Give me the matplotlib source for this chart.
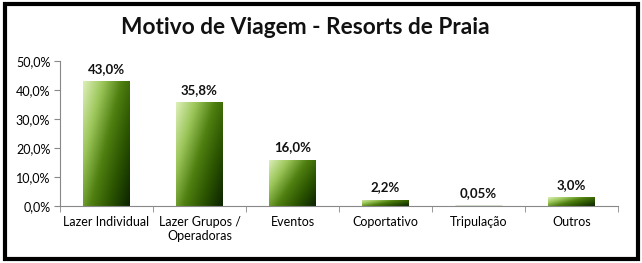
import matplotlib.pyplot as plt
import numpy as np
from matplotlib.colors import LinearSegmentedColormap
from matplotlib.patches import Rectangle

categories = ["Lazer Individual", "Lazer Grupos /\nOperadoras", "Eventos",
              "Coportativo", "Tripulação", "Outros"]
values = [43.0, 35.8, 16.0, 2.2, 0.05, 3.0]
value_labels = ["43,0%", "35,8%", "16,0%", "2,2%", "0,05%", "3,0%"]
yticks = [0, 10, 20, 30, 40, 50]
ytick_labels = ["0,0%", "10,0%", "20,0%", "30,0%", "40,0%", "50,0%"]

plt.rcParams['font.family'] = ['Lato', 'DejaVu Sans']

fig = plt.figure(figsize=(6.42, 2.63), dpi=100)
ax = fig.add_axes([0.0935, 0.2167, 0.869, 0.551])

cmap = LinearSegmentedColormap.from_list(
    "grn", ["#dcefb8", "#9cc65a", "#4f7f10", "#2a5200", "#0c2400"])

x = np.arange(len(categories))
bars = ax.bar(x, values, width=0.5, color="none", edgecolor="none")
gx, gy = np.meshgrid(np.linspace(0, 1, 60), np.linspace(0, 1, 60))
for b in bars:
    x0, y0 = b.get_x(), b.get_y()
    w, h = b.get_width(), b.get_height()
    # diagonal gradient: light top-left, dark bottom-right
    grad = 0.6 * gx + 0.4 * gy
    im = ax.imshow(grad, cmap=cmap, extent=[x0, x0 + w, y0, y0 + max(h, 0.12)],
                   origin="upper", aspect="auto", vmin=0, vmax=1, zorder=2)
    im.set_clip_path(b)
    if h < 0.2:
        ax.add_patch(Rectangle((x0, 0), w, 0.15, color="#3a6a08", zorder=2))

for xi, v, lab in zip(x, values, value_labels):
    ax.text(xi, v + 2.2, lab, ha="center", va="bottom", fontsize=9.5,
            fontweight="bold", color="#111111")

ax.set_xlim(-0.5, len(categories) - 0.5)
ax.set_ylim(0, 50)
ax.set_yticks(yticks)
ax.set_yticklabels(ytick_labels, fontsize=9)
ax.set_xticks(x)
ax.set_xticklabels(categories, fontsize=9, linespacing=1.2)
ax.tick_params(axis="x", length=0, pad=7)
ax.set_xticks(np.arange(len(categories) + 1) - 0.5, minor=True)
ax.tick_params(axis="x", which="minor", length=4, color="#888888")
ax.tick_params(axis="y", length=4, color="#888888", pad=3)
for s in ["top", "right"]:
    ax.spines[s].set_visible(False)
for s in ["left", "bottom"]:
    ax.spines[s].set_color("#888888")

fig.text(0.475, 0.897, "Motivo de Viagem - Resorts de Praia", ha="center",
         va="center", fontsize=16.3, fontweight="bold", color="#111111")

fig.patches.append(Rectangle((4.5 / 642, 1 - 258.5 / 263), 633.5 / 642, 255 / 263,
                             transform=fig.transFigure, fill=False,
                             edgecolor="black", linewidth=3))

fig.savefig("out.png", dpi=100)
